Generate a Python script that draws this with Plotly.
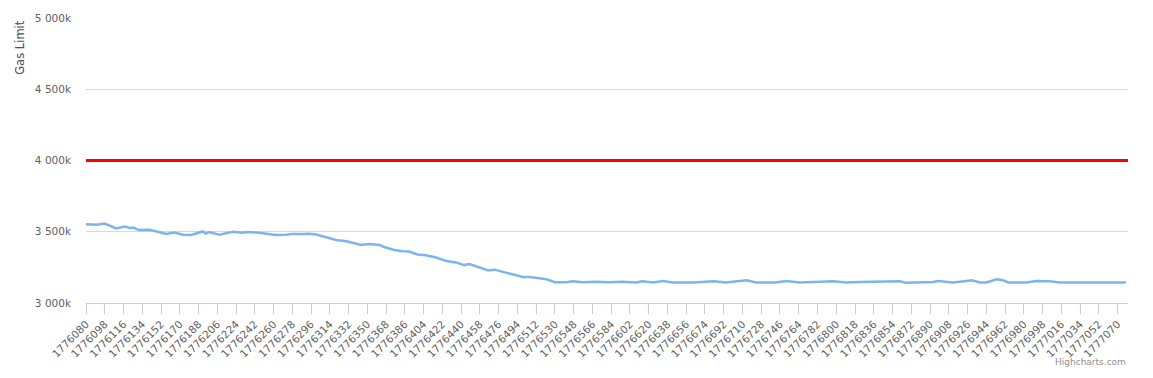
import plotly.graph_objects as go

# Gas limit series (block number, gas limit)
blocks = [1776080, 1776090, 1776098, 1776109, 1776117, 1776122, 1776125, 1776131, 1776141, 1776147,
          1776157, 1776165, 1776173, 1776181, 1776189, 1776192, 1776195, 1776198, 1776208, 1776214,
          1776221, 1776230, 1776234, 1776246, 1776253, 1776262, 1776272, 1776278, 1776288, 1776294,
          1776301, 1776310, 1776320, 1776330, 1776336, 1776344, 1776352, 1776362, 1776366, 1776376,
          1776384, 1776390, 1776398, 1776406, 1776416, 1776426, 1776435, 1776443, 1776448, 1776456,
          1776466, 1776472, 1776480, 1776490, 1776499, 1776506, 1776512, 1776522, 1776530, 1776541,
          1776547, 1776557, 1776570, 1776582, 1776595, 1776608, 1776614, 1776624, 1776634, 1776643,
          1776662, 1776683, 1776694, 1776714, 1776723, 1776742, 1776752, 1776765, 1776797, 1776810,
          1776822, 1776854, 1776861, 1776867, 1776893, 1776898, 1776912, 1776925, 1776930, 1776938,
          1776944, 1776954, 1776960, 1776965, 1776982, 1776992, 1777005, 1777014, 1777046, 1777059,
          1777078]
gas_limit_k = [3553, 3549, 3558, 3523, 3537, 3526, 3530, 3512, 3514, 3502,
               3484, 3495, 3479, 3477, 3498, 3502, 3488, 3498, 3479, 3491,
               3500, 3493, 3498, 3493, 3486, 3477, 3479, 3484, 3484, 3486,
               3481, 3463, 3442, 3433, 3424, 3407, 3414, 3407, 3393, 3372,
               3363, 3361, 3340, 3335, 3319, 3294, 3285, 3266, 3273, 3252,
               3229, 3234, 3218, 3197, 3183, 3183, 3178, 3167, 3146, 3146,
               3153, 3146, 3150, 3146, 3150, 3144, 3153, 3144, 3155, 3144,
               3144, 3153, 3144, 3160, 3144, 3144, 3155, 3144, 3153, 3144,
               3148, 3148, 3153, 3142, 3148, 3155, 3144, 3155, 3160, 3144,
               3144, 3167, 3160, 3144, 3144, 3155, 3153, 3144, 3144, 3148,
               3144]
gas_limit = [v * 1000 for v in gas_limit_k]

# Reference limit line
limit_blocks = [1776080, 1777080]
limit_values = [4000000, 4000000]

# Axis ticks
x_tickvals = list(range(1776080, 1777071, 18))
x_ticktext = [str(v) for v in x_tickvals]
y_tickvals = [3000000, 3500000, 4000000, 4500000, 5000000]
y_ticktext = ["3 000k", "3 500k", "4 000k", "4 500k", "5 000k"]

FONT = "DejaVu Sans"

fig = go.Figure()
fig.add_trace(go.Scatter(x=limit_blocks, y=limit_values, mode="lines",
                         line=dict(color="#ff0000", width=3), hoverinfo="skip",
                         showlegend=False))
fig.add_trace(go.Scatter(x=blocks, y=gas_limit, mode="lines",
                         line=dict(color="#7cb5ec", width=2.5), hoverinfo="skip",
                         showlegend=False))

fig.update_layout(
    width=1153, height=378,
    margin=dict(l=86, r=25, t=15, b=75),
    paper_bgcolor="white", plot_bgcolor="white",
    font=dict(family=FONT, size=11, color="#606060"),
    xaxis=dict(range=[1776080, 1777080], tickvals=x_tickvals, ticktext=x_ticktext,
               tickangle=-45, showgrid=False, zeroline=False,
               showline=True, linecolor="#C0D0E0", linewidth=1,
               ticks="outside", ticklen=10, tickcolor="#C0D0E0", tickwidth=1,
               tickfont=dict(family=FONT, size=10.5, color="#606060")),
    yaxis=dict(range=[3000000, 5000000], tickvals=y_tickvals, ticktext=y_ticktext,
               showgrid=True, gridcolor="#D8D8D8", gridwidth=1, zeroline=False,
               showline=False, ticks="", ticklabelstandoff=14,
               tickfont=dict(family=FONT, size=10.5, color="#606060")),
    annotations=[
        dict(text="Gas Limit", xref="paper", yref="paper", x=-0.064, y=1.0,
             xanchor="center", yanchor="top", textangle=-90, showarrow=False,
             yshift=0, font=dict(family=FONT, size=11.5, color="#4d4d4d")),
        dict(text="Highcharts.com", xref="paper", yref="paper", x=1.0, y=0,
             xanchor="right", yanchor="top", showarrow=False, yshift=-52,
             font=dict(family=FONT, size=9, color="#909090")),
    ],
)

fig.write_html("out.html")
